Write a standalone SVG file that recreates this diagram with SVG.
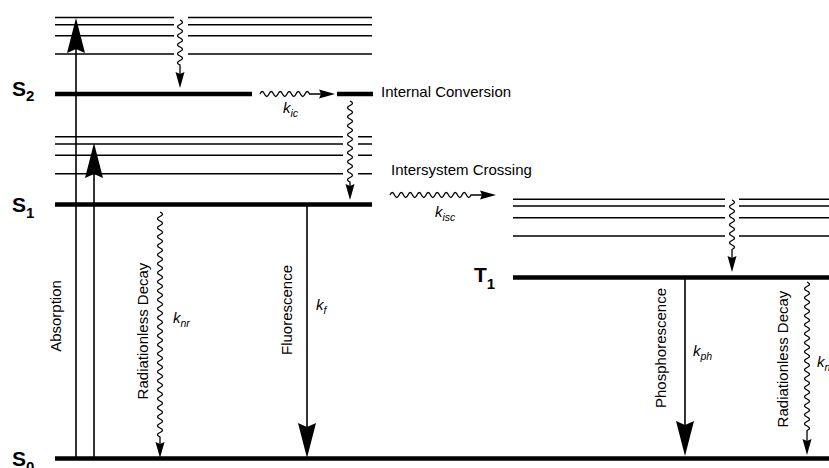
<svg xmlns="http://www.w3.org/2000/svg" width="829" height="468" viewBox="0 0 829 468">
<style>
.thin{stroke:#000;stroke-width:1.4;fill:none}
.thick{stroke:#000;stroke-width:4.6;fill:none}
.arr{stroke:#000;stroke-width:1.6;fill:none}
.wav{stroke:#000;stroke-width:1.3;fill:none}
.lbl{font-family:'Liberation Sans',Arial,sans-serif;font-size:15px;fill:#000}
.k{font-family:'Liberation Sans',Arial,sans-serif;font-size:15px;font-style:italic;fill:#000}
.sub{font-size:10.5px}
.st{font-family:'Liberation Sans',Arial,sans-serif;font-size:21px;font-weight:bold;fill:#000}
.sts{font-size:15px}
</style>
<defs>
<marker id="big" markerUnits="userSpaceOnUse" viewBox="-7 -10 37 20" markerWidth="37" markerHeight="20" refX="0" refY="0" orient="auto"><path d="M-6,-9 L29,0 L-6,9 L-2,0 Z" fill="#000"/></marker>
<marker id="small" markerUnits="userSpaceOnUse" viewBox="-5 -5 18 10" markerWidth="18" markerHeight="10" refX="0" refY="0" orient="auto"><path d="M-4,-4.5 L12,0 L-4,4.5 L-2,0 Z" fill="#000"/></marker>
</defs>
<rect width="829" height="468" fill="#fff"/>

<g id="S2">
<path class="thin" d="M55,17.5H174M188,17.5H372M55,24.7H174M188,24.7H372M55,35.7H174M188,35.7H372M55,54H174M188,54H372"/>
<path class="thick" d="M55,94H252M337,94H373"/>
<text class="st" x="12" y="96">S<tspan class="sts" dy="5">2</tspan></text>
<text class="lbl" x="381" y="97">Internal Conversion</text>
</g>

<g id="S1">
<path class="thin" d="M55,136.7H343M358,136.7H372M55,144H343M358,144H372M55,155.3H343M358,155.3H372M55,173.7H343M358,173.7H372"/>
<path class="thick" d="M55,204.5H372"/>
<text class="st" x="12" y="212">S<tspan class="sts" dy="6">1</tspan></text>
<text class="lbl" x="391" y="175">Intersystem Crossing</text>
</g>

<g id="T1">
<path class="thin" d="M513,199.3H725M739,199.3H829M513,206H725M739,206H829M513,217.7H725M739,217.7H829M513,236H725M739,236H829"/>
<path class="thick" d="M513,277.5H829"/>
<text class="st" x="474" y="282">T<tspan class="sts" dy="7">1</tspan></text>
</g>

<g id="S0">
<path class="thick" d="M55,458.5H829"/>
<text class="st" x="12" y="466">S<tspan class="sts" dy="6">0</tspan></text>
</g>

<g id="connectors">
<path class="arr" d="M76,458V47" marker-end="url(#big)"/>
<path class="arr" d="M94,458V172" marker-end="url(#big)"/>
<path class="arr" d="M307,205V429" marker-end="url(#big)"/>
<path class="arr" d="M685,278V427" marker-end="url(#big)"/>
<path class="wav" d="M180,20 q5,2.25 0,4.5 t0,4.5 t0,4.5 t0,4.5 t0,4.5 t0,4.5 t0,4.5 t0,4.5 t0,4.5 t0,4.5 V76" marker-end="url(#small)"/>
<path class="wav" d="M260,94 q2.25,-5 4.5,0 t4.5,0 t4.5,0 t4.5,0 t4.5,0 t4.5,0 t4.5,0 t4.5,0 t4.5,0 t4.5,0 t4.5,0 H323" marker-end="url(#small)"/>
<path class="wav" d="M350,101 q5,2.25 0,4.5 t0,4.5 t0,4.5 t0,4.5 t0,4.5 t0,4.5 t0,4.5 t0,4.5 t0,4.5 t0,4.5 t0,4.5 t0,4.5 t0,4.5 t0,4.5 t0,4.5 t0,4.5 t0,4.5 t0,4.5 V188" marker-end="url(#small)"/>
<path class="wav" d="M390,195 q2.25,-5 4.5,0 t4.5,0 t4.5,0 t4.5,0 t4.5,0 t4.5,0 t4.5,0 t4.5,0 t4.5,0 t4.5,0 t4.5,0 t4.5,0 t4.5,0 t4.5,0 t4.5,0 t4.5,0 t4.5,0 t4.5,0 H484" marker-end="url(#small)"/>
<path class="wav" d="M732,200 q5,2.25 0,4.5 t0,4.5 t0,4.5 t0,4.5 t0,4.5 t0,4.5 t0,4.5 t0,4.5 t0,4.5 t0,4.5 t0,4.5 V260" marker-end="url(#small)"/>
<path class="wav" d="M160,212 q5,2.25 0,4.5 t0,4.5 t0,4.5 t0,4.5 t0,4.5 t0,4.5 t0,4.5 t0,4.5 t0,4.5 t0,4.5 t0,4.5 t0,4.5 t0,4.5 t0,4.5 t0,4.5 t0,4.5 t0,4.5 t0,4.5 t0,4.5 t0,4.5 t0,4.5 t0,4.5 t0,4.5 t0,4.5 t0,4.5 t0,4.5 t0,4.5 t0,4.5 t0,4.5 t0,4.5 t0,4.5 t0,4.5 t0,4.5 t0,4.5 t0,4.5 t0,4.5 t0,4.5 t0,4.5 t0,4.5 t0,4.5 t0,4.5 t0,4.5 t0,4.5 t0,4.5 t0,4.5 t0,4.5 t0,4.5 t0,4.5 t0,4.5 t0,4.5 V446" marker-end="url(#small)"/>
<path class="wav" d="M807,282 q5,2.25 0,4.5 t0,4.5 t0,4.5 t0,4.5 t0,4.5 t0,4.5 t0,4.5 t0,4.5 t0,4.5 t0,4.5 t0,4.5 t0,4.5 t0,4.5 t0,4.5 t0,4.5 t0,4.5 t0,4.5 t0,4.5 t0,4.5 t0,4.5 t0,4.5 t0,4.5 t0,4.5 t0,4.5 t0,4.5 t0,4.5 t0,4.5 t0,4.5 t0,4.5 t0,4.5 t0,4.5 t0,4.5 t0,4.5 V443" marker-end="url(#small)"/>
<text class="lbl" transform="translate(61,316) rotate(-90)" text-anchor="middle">Absorption</text>
<text class="lbl" transform="translate(147.5,331) rotate(-90)" text-anchor="middle">Radiationless Decay</text>
<text class="lbl" transform="translate(292,310) rotate(-90)" text-anchor="middle">Fluorescence</text>
<text class="lbl" transform="translate(666,348) rotate(-90)" text-anchor="middle">Phosphorescence</text>
<text class="lbl" transform="translate(787.5,359) rotate(-90)" text-anchor="middle">Radiationless Decay</text>
<text class="k" x="283" y="113">k<tspan class="sub" dy="4">ic</tspan></text>
<text class="k" x="435" y="217">k<tspan class="sub" dy="4">isc</tspan></text>
<text class="k" x="173" y="323">k<tspan class="sub" dy="4">nr</tspan></text>
<text class="k" x="316" y="310">k<tspan class="sub" dy="4">f</tspan></text>
<text class="k" x="693" y="356">k<tspan class="sub" dy="4">ph</tspan></text>
<text class="k" x="817" y="367">k<tspan class="sub" dy="4">nr</tspan></text>
</g>
</svg>
